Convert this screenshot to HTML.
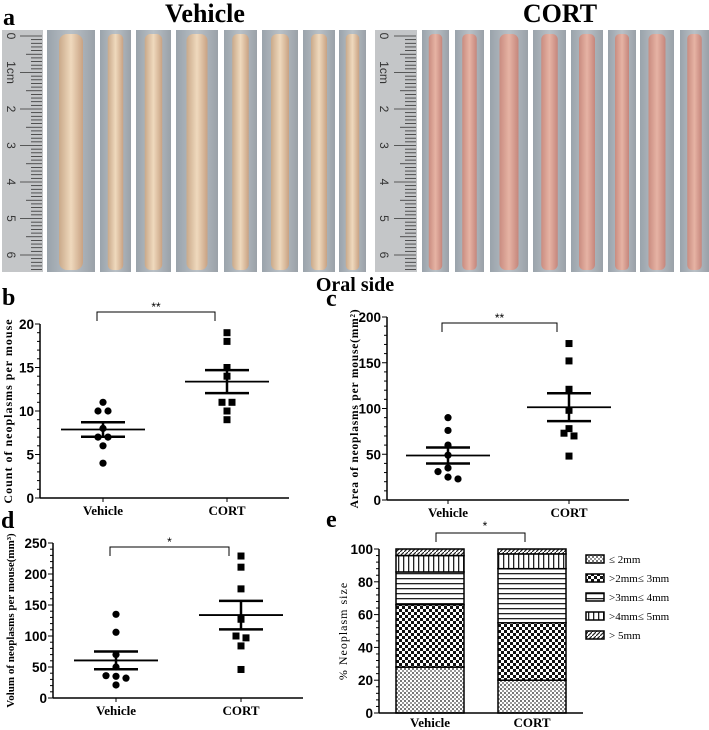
<!DOCTYPE html>
<html><head><meta charset="utf-8"><style>
html,body{margin:0;padding:0;background:#fff;}
svg{display:block;font-family:"Liberation Serif",serif;}
.ax{font-family:"Liberation Sans",sans-serif;font-weight:bold;font-size:13.5px;}
</style></head><body>
<svg id="fig" width="709" height="730" viewBox="0 0 709 730" xmlns="http://www.w3.org/2000/svg">
<defs>
<pattern id="p1" width="4" height="4" patternUnits="userSpaceOnUse"><rect width="4" height="4" fill="#fff"/><rect width="2" height="2" fill="#777"/><rect x="2" y="2" width="2" height="2" fill="#999"/></pattern>
<pattern id="p2" width="6" height="6" patternUnits="userSpaceOnUse"><rect width="6" height="6" fill="#fff"/><rect width="3" height="3" fill="#111"/><rect x="3" y="3" width="3" height="3" fill="#111"/></pattern>
<pattern id="p3" width="6" height="5" patternUnits="userSpaceOnUse"><rect width="6" height="5" fill="#fff"/><rect y="3" width="6" height="1.3" fill="#222"/></pattern>
<pattern id="p4" width="5" height="6" patternUnits="userSpaceOnUse"><rect width="5" height="6" fill="#fff"/><rect x="3" width="1.3" height="6" fill="#222"/></pattern>
<pattern id="p5" width="4" height="4" patternUnits="userSpaceOnUse"><rect width="4" height="4" fill="#fff"/><path d="M0 4L4 0" stroke="#222" stroke-width="1.2"/></pattern>
<linearGradient id="tissueV" x1="0" x2="1"><stop offset="0" stop-color="#c9a98a"/><stop offset="0.5" stop-color="#efd9bd"/><stop offset="1" stop-color="#c8a283"/></linearGradient>
<linearGradient id="tissueC" x1="0" x2="1"><stop offset="0" stop-color="#c98c80"/><stop offset="0.5" stop-color="#e6b3a4"/><stop offset="1" stop-color="#c5867c"/></linearGradient>
<linearGradient id="bg" x1="0" x2="1"><stop offset="0" stop-color="#9aa3ab"/><stop offset="0.5" stop-color="#b9c0c6"/><stop offset="1" stop-color="#9aa1a8"/></linearGradient>
</defs>
<g id="photos"></g>
<text x="3" y="25" font-size="24" font-weight="bold">a</text>
<text x="205" y="22" font-size="26" font-weight="bold" text-anchor="middle">Vehicle</text>
<text x="560" y="22" font-size="26" font-weight="bold" text-anchor="middle">CORT</text>
<text x="355" y="291" font-size="20" font-weight="bold" text-anchor="middle">Oral side</text>
<text x="2" y="305" font-size="24" font-weight="bold">b</text>
<text x="326" y="306" font-size="24" font-weight="bold">c</text>
<text x="1" y="528" font-size="24" font-weight="bold">d</text>
<text x="326" y="527" font-size="24" font-weight="bold">e</text>
<g id="charts"></g>
</svg>
<script>
// ---- Panel b data ----
const groups = ["Vehicle","CORT"];
const bVehicle = [10,10,11,8,7,7,6,4];
const bCort = [19,18,15,14,11,11,10,9];
const bTicks = [0,5,10,15,20];
// ---- Panel c data ----
const cVehicle = [90,76,60,49,35,31,25,23];
const cCort = [171,152,121,98,78,73,70,48];
const cTicks = [0,50,100,150,200];
// ---- Panel d data ----
const dVehicle = [135,106,70,50,36,35,32,21];
const dCort = [229,211,176,127,100,97,84,46];
const dTicks = [0,50,100,150,200,250];
// ---- Panel e data ----
const eCategories = ["\u2264 2mm",">2mm\u2264 3mm",">3mm\u2264 4mm",">4mm\u2264 5mm","> 5mm"];
const eVehicle = [28,38,20,10,4];
const eCort = [20,35,33,9,3];
const eTicks = [0,20,40,60,80,100];

const NS="http://www.w3.org/2000/svg";
function mk(tag,attrs,parent){const e=document.createElementNS(NS,tag);for(const k in attrs)e.setAttribute(k,attrs[k]);(parent||document.getElementById('charts')).appendChild(e);return e;}

// ---- photos ----
const ph=document.getElementById('photos');
const leftPanels=[[47,95],[100,131],[136,171],[176,218],[224,257],[262,298],[303,335],[339,366]];
const rightPanels=[[422,449],[455,484],[490,528],[533,566],[571,603],[608,636],[640,674],[680,709]];
function strips(list,grad){list.forEach((p,i)=>{
  const r=mk('rect',{x:p[0],y:30,width:p[1]-p[0],height:242,fill:'url(#bg)'},ph);
  
  
  const w=p[1]-p[0],cx=(p[0]+p[1])/2,tw=w*0.5;
  const t=mk('rect',{x:cx-tw/2,y:34,width:tw,height:236,rx:tw/3,fill:grad},ph);
  
  
});}
strips(leftPanels,'url(#tissueV)');strips(rightPanels,'url(#tissueC)');
[[2,43],[375,417]].forEach(p=>{
  const r=mk('rect',{x:p[0],y:30,width:p[1]-p[0],height:242,fill:'#c4c6c8'},ph);
  
  
  for(let i=0;i<=64;i++){const y=36+i*3.65;if(y>270)break;const len=i%10==0?22:(i%5==0?16:11);
    mk('line',{x1:p[1]-1,x2:p[1]-1-len,y1:y,y2:y,stroke:'#333','stroke-width':0.8},ph);}
  for(let n=0;n<=6;n++){const t=mk('text',{x:p[0]+8,y:36+n*36.5,'font-size':12,fill:'#333','font-family':'Liberation Sans,sans-serif',transform:`rotate(90 ${p[0]+8} ${36+n*36.5})`,'text-anchor':'middle','dominant-baseline':'middle'},ph);t.textContent=n==1?'1cm':n;}
});

// ---- scatter panels ----
function scatter(cfg){
  const {x0,xEnd,yTop,yBot,max,ticks,v,c,xv,xc,label,bracketY,star,name}=cfg;
  const y=val=>yBot-(val/max)*(yBot-yTop);
  const g=mk('g',{});
  
  
  mk('line',{x1:x0,x2:x0,y1:yTop,y2:yBot,stroke:'#000','stroke-width':1.5},g);
  mk('line',{x1:x0,x2:xEnd,y1:yBot,y2:yBot,stroke:'#000','stroke-width':1.5},g);
  const step=ticks[1]-ticks[0];
  for(let t=0;t<=max;t+=step/5){mk('line',{x1:x0,x2:x0-(Math.abs(t%step)<1e-9?5:3),y1:y(t),y2:y(t),stroke:'#000','stroke-width':1},g);}
  ticks.forEach(t=>{const tx=mk('text',{x:x0-6,y:y(t)+5,'text-anchor':'end',class:'ax'},g);tx.textContent=t;
    
    });
  [xv,xc].forEach((xx,i)=>{mk('line',{x1:xx,x2:xx,y1:yBot,y2:yBot+4,stroke:'#000'},g);
    const tx=mk('text',{x:xx,y:yBot+17,'text-anchor':'middle','font-size':13,'font-weight':'bold'},g);tx.textContent=groups[i];
    
    });
  const yl=mk('text',{x:0,y:0,'font-size':cfg.labSize||12,'font-weight':'bold','text-anchor':'middle','letter-spacing':cfg.ls||'0.5',transform:`translate(${cfg.labX},${(yTop+yBot)/2}) rotate(-90)`},g);
  yl.textContent=label;
  
  
  function grp(vals,xx,sq){
    const n=vals.length,m=vals.reduce((a,b)=>a+b,0)/n;
    const sd=Math.sqrt(vals.reduce((a,b)=>a+(b-m)*(b-m),0)/(n-1)),se=sd/Math.sqrt(n);
    const keyOf=val=>Math.round(val/max*22);
    const seen={};
    vals.forEach(val=>{const k=keyOf(val);seen[k]=(seen[k]||0)+1;});
    const cnt={};
    vals.forEach(val=>{const k=keyOf(val);const tot=seen[k];cnt[k]=(cnt[k]||0)+1;
      const off=(cnt[k]-1-(tot-1)/2)*10;const px=xx+off,py=y(val);let e;
      if(sq)e=mk('rect',{x:px-3.5,y:py-3.5,width:7,height:7,fill:'#000'},g);
      else e=mk('circle',{cx:px,cy:py,r:3.6,fill:'#000'},g);
      
      });
    const ml=mk('line',{x1:xx-42,x2:xx+42,y1:y(m),y2:y(m),stroke:'#000','stroke-width':1.8},g);
    
    
    mk('line',{x1:xx-22,x2:xx+22,y1:y(m+se),y2:y(m+se),stroke:'#000','stroke-width':2.5},g);
    mk('line',{x1:xx-22,x2:xx+22,y1:y(m-se),y2:y(m-se),stroke:'#000','stroke-width':2.5},g);
    mk('line',{x1:xx,x2:xx,y1:y(m+se),y2:y(m-se),stroke:'#000','stroke-width':2.5},g);
  }
  grp(v,xv,false);grp(c,xc,true);
  const b=mk('path',{d:`M${xv-6} ${bracketY+9}V${bracketY}H${xc-12}V${bracketY+9}`,fill:'none',stroke:'#000','stroke-width':1},g);
  
  
  const s=mk('text',{x:(xv+xc-18)/2,y:bracketY-1,'text-anchor':'middle','font-size':12,'font-family':'Liberation Sans,sans-serif'},g);s.textContent=star;
  
  
}
scatter({name:'chart-b-count',x0:40,xEnd:289,yTop:324,yBot:498,max:20,ticks:bTicks,v:bVehicle,c:bCort,xv:103,xc:227,labX:12,labSize:12,ls:'1',bracketY:312,star:'**',label:'Count of neoplasms per mouse'});
scatter({name:'chart-c-area',x0:387,xEnd:629,yTop:317,yBot:500,max:200,ticks:cTicks,v:cVehicle,c:cCort,xv:448,xc:569,labX:358,labSize:11.5,ls:'0.8',bracketY:323,star:'**',label:'Area of neoplasms per mouse(mm\u00b2)'});
scatter({name:'chart-d-volume',x0:53,xEnd:303,yTop:543,yBot:698,max:250,ticks:dTicks,v:dVehicle,c:dCort,xv:116,xc:241,labX:14,labSize:11,ls:'0',bracketY:547,star:'*',label:'Volum of neoplasms per mouse(mm\u00b3)'});

// ---- stacked bar panel e ----
(function(){
  const x0=379,xEnd=583,yTop=549,yBot=713;
  const y=v=>yBot-v/100*(yBot-yTop);
  const pats=['url(#p1)','url(#p2)','url(#p3)','url(#p4)','url(#p5)'];
  const g=mk('g',{});
  
  
  [[eVehicle,396,464],[eCort,498,566]].forEach(([vals,a,b],gi)=>{
    let acc=0;
    vals.forEach((v,i)=>{const r=mk('rect',{x:a,y:y(acc+v),width:b-a,height:y(acc)-y(acc+v),fill:pats[i],stroke:'#000','stroke-width':1.5},g);
      
      acc+=v;});
    const tx=mk('text',{x:(a+b)/2,y:yBot+14,'text-anchor':'middle','font-size':13,'font-weight':'bold'},g);tx.textContent=groups[gi];
    
    
  });
  mk('line',{x1:x0,x2:x0,y1:yTop,y2:yBot,stroke:'#000','stroke-width':1.5},g);
  mk('line',{x1:x0,x2:xEnd,y1:yBot,y2:yBot,stroke:'#000','stroke-width':1.5},g);
  for(let t=0;t<=100;t+=4){mk('line',{x1:x0,x2:x0-(t%20==0?5:3),y1:y(t),y2:y(t),stroke:'#000'},g);}
  eTicks.forEach(t=>{const tx=mk('text',{x:x0-6,y:y(t)+5,'text-anchor':'end',class:'ax'},g);tx.textContent=t;
    
    });
  const yl=mk('text',{'font-size':12,'text-anchor':'middle','letter-spacing':'1',transform:`translate(347,${(yTop+yBot)/2}) rotate(-90)`},g);yl.textContent='% Neoplasm  size';
  
  
  const b=mk('path',{d:'M436 542V533H525V542',fill:'none',stroke:'#000'},g);
  
  
  const s=mk('text',{x:485,y:530,'text-anchor':'middle','font-size':12,'font-family':'Liberation Sans,sans-serif'},g);s.textContent='*';
  
  
  eCategories.forEach((c,i)=>{const yy=559+i*19;
    const r=mk('rect',{x:586,y:yy-4,width:18,height:8,fill:pats[i],stroke:'#000','stroke-width':1.5},g);
    
    
    const t=mk('text',{x:609,y:yy+4,'font-size':11},g);t.textContent=c;
    
    });
})();
</script>
</body></html>
